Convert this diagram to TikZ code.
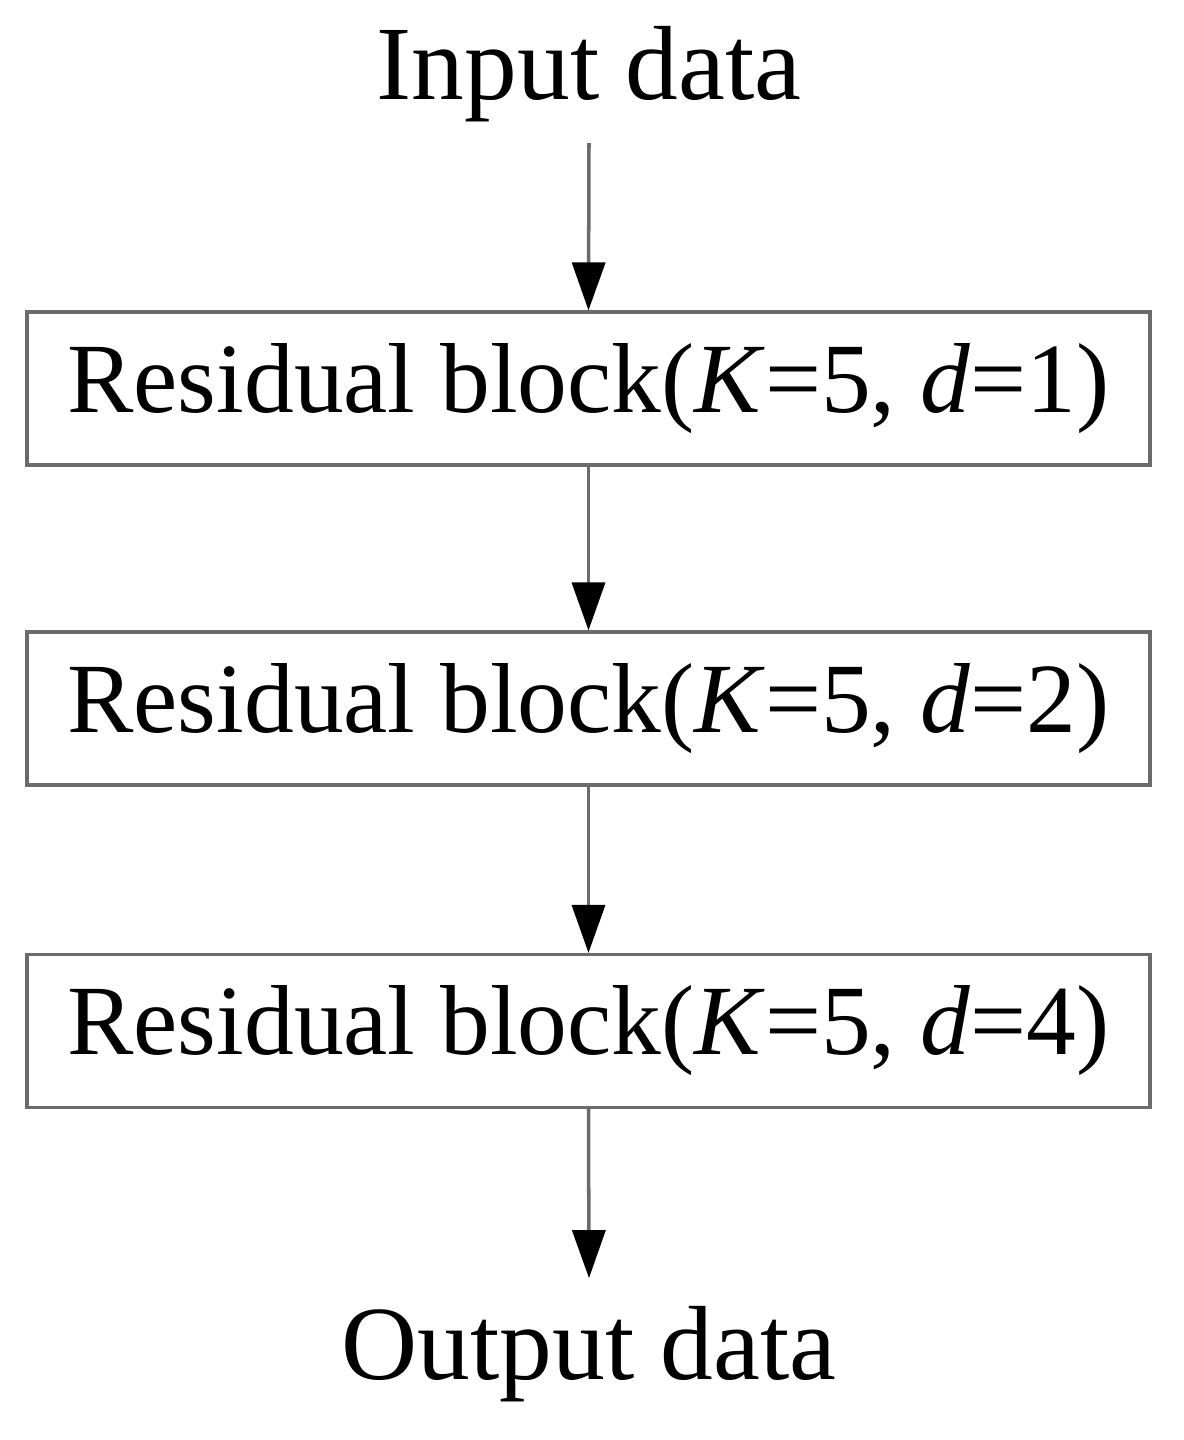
\documentclass[tikz,border=0pt]{standalone}
\usepackage{fontspec}
\setmainfont{Liberation Serif}
\usepackage{tikz}
\usetikzlibrary{arrows.meta}
\definecolor{linegray}{gray}{0.42}
\tikzset{
  label text/.style={font=\fontsize{30}{36}\selectfont, inner sep=0.2cm},
  resblock/.style={draw=linegray, line width=0.9pt, minimum width=11.23cm,
    minimum height=1.53cm, inner sep=0pt, font=\fontsize{28.3}{34}\selectfont},
  flow/.style={draw=linegray, line width=1pt,
    -{Triangle[length=0.48cm,width=0.33cm,color=black]}}}

\begin{document}
\begin{tikzpicture}
              \useasboundingbox (0,0) rectangle (11.83,14.40);
              \node[label text, anchor=base] (input) at (5.89,13.40) {Input data};
              \node[resblock] (block1) at (5.885,10.515) {Residual block(\textit{K}=5, \textit{d}=1)};
              \node[resblock] (block2) at (5.885,7.315) {Residual block(\textit{K}=5, \textit{d}=2)};
              \node[resblock] (block3) at (5.885,4.09) {Residual block(\textit{K}=5, \textit{d}=4)};
              \node[label text, anchor=base, inner sep=0.28cm] (output) at (5.89,0.60) {Output data};
              \draw[flow] (input.south) -- (block1.north);
              \draw[flow] (block1.south) -- (block2.north);
              \draw[flow] (block2.south) -- (block3.north);
              \draw[flow] (block3.south) -- (output.north);
          \end{tikzpicture}
\end{document}
